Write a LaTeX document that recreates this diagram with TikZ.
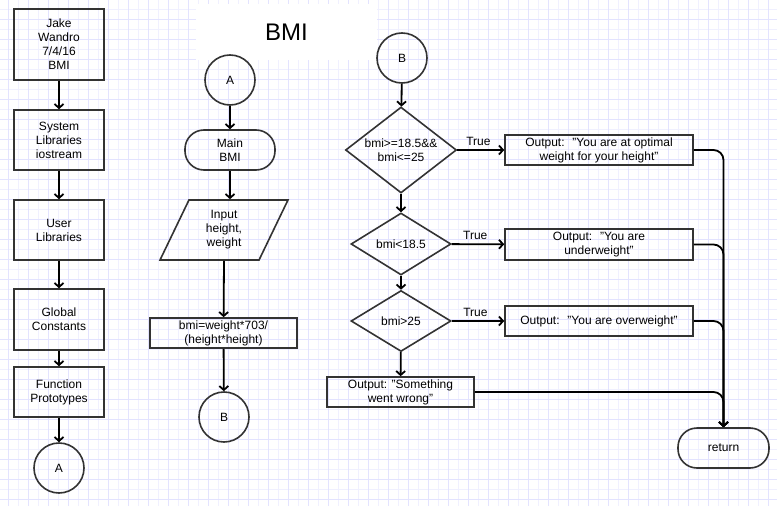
\documentclass[tikz,border=0pt]{standalone}
\usepackage{fontspec}
\setmainfont{Liberation Sans}
\usetikzlibrary{shapes.geometric,arrows.meta}
\begin{document}
\begin{tikzpicture}[x=1pt,y=-1pt,
	font=\fontsize{12}{14}\selectfont,
	>={Straight Barb[length=4pt,width=9pt]},
	box/.style={draw=black!80,line width=1.6pt,align=center,inner sep=0pt,minimum width=90,minimum height=60},
	con/.style={draw=black!80,line width=1.6pt,circle,inner sep=0pt,minimum size=50},
	term/.style={draw=black!80,line width=1.6pt,rounded corners=19,align=center,inner sep=0pt,minimum width=90,minimum height=40},
	test/.style={draw=black!80,line width=1.6pt,diamond,align=center,inner sep=0pt,aspect=1.3},
	flow/.style={->,line width=1.8pt},
	gridminor/.style={draw=blue!6,line width=0.8pt},
	gridmajor/.style={draw=blue!11,line width=0.8pt}]
	\useasboundingbox (0,0) rectangle (777,506);
	\fill[white] (0,0) rectangle (777,506);
	\foreach \x in {8,18,...,778} \draw[gridminor] (\x,0) -- (\x,506);
	\foreach \y in {9,19,...,509} \draw[gridminor] (0,\y) -- (777,\y);
	\foreach \x in {8,28,...,778} \draw[gridmajor] (\x,0) -- (\x,506);
	\foreach \y in {19,39,...,509} \draw[gridmajor] (0,\y) -- (777,\y);
	% left column
	\node[box,minimum height=71] (hdr) at (59,44.5) {Jake\\Wandro\\7/4/16\\BMI};
	\node[box] (syslib) at (59,140) {System\\Libraries\\iostream};
	\node[box] (usrlib) at (59,230) {User\\Libraries};
	\node[box,minimum height=61] (glob) at (59,319.5) {Global\\Constants};
	\node[box,minimum height=50] (proto) at (59,392) {Function\\Prototypes};
	\node[con] (A1) at (59,468) {A};
	\draw[flow] (hdr) -- (syslib);
	\draw[flow] (syslib) -- (usrlib);
	\draw[flow] (usrlib) -- (glob);
	\draw[flow] (glob) -- (proto);
	\draw[flow] (proto) -- (A1);
	% main
	\node[fill=white,minimum width=181,minimum height=56,font=\fontsize{24}{28}\selectfont] (title) at (286.5,32) {BMI};
	\node[con] (A2) at (230,80) {A};
	\node[term] (main) at (230,150) {Main\\BMI};
	\node[draw=black!80,line width=1.6pt,trapezium,trapezium left angle=69,trapezium right angle=111,
		trapezium stretches=true,align=center,inner sep=0pt,minimum width=128,minimum height=60] (input) at (224,230) {Input\\height,\\weight};
	\node[box,minimum width=147,minimum height=30] (calc) at (223.5,333) {bmi=weight*703/\\(height*height)};
	\node[con] (B1) at (224,417) {B};
	\draw[flow] (A2) -- (main);
	\draw[flow] (main) -- (main|-input.north);
	\draw[flow] (input.south) -- (calc);
	\draw[flow] (calc) -- (B1);
	% tests
	\node[con] (B2) at (402,58) {B};
	\node[test,minimum width=111,minimum height=86] (t1) at (401,150) {bmi>=18.5\&\&\\bmi<=25};
	\node[test,minimum width=100,minimum height=62] (t2) at (401,244) {bmi<18.5};
	\node[test,minimum width=100,minimum height=61] (t3) at (401,321) {bmi>25};
	\node[box,minimum width=147,minimum height=30] (wrong) at (400.5,392) {Output: "Something\\went wrong"};
	\node[box,minimum width=188,minimum height=30] (opt) at (599,150) {Output:~ "You are at optimal\\weight for your height"};
	\node[box,minimum width=188,minimum height=31] (under) at (599,244.5) {Output:~ "You are\\underweight"};
	\node[box,minimum width=188,minimum height=30] (over) at (599,321) {Output:~ "You are overweight"};
	\node[term,minimum width=91] (ret) at (723.5,448) {return};
	\draw[flow] (B2) -- (t1);
	\draw[flow] (t1) -- (t2);
	\draw[flow] (t2) -- (t3);
	\draw[flow] (t3) -- (wrong);
	\draw[flow] (t1) -- (opt) node[pos=0.45,above] {True};
	\draw[flow] (t2) -- (under) node[pos=0.45,above] {True};
	\draw[flow] (t3) -- (over) node[pos=0.45,above] {True};
	\draw[flow,rounded corners=10] (opt) -| (ret);
	\draw[flow,rounded corners=10] (under) -| (ret);
	\draw[flow,rounded corners=10] (over) -| (ret);
	\draw[flow,rounded corners=10] (wrong) -| (ret);
\end{tikzpicture}
\end{document}
